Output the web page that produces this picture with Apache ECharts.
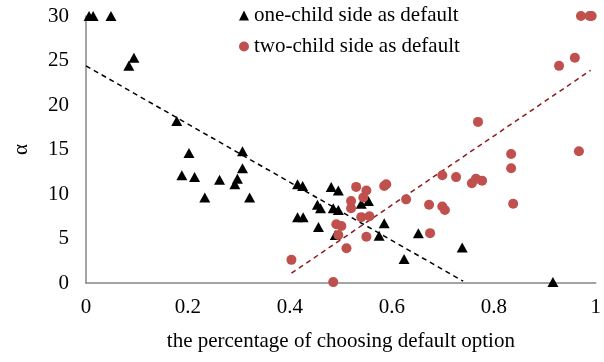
<!DOCTYPE html>
<html>
<head>
<meta charset="utf-8">
<script src="https://cdn.jsdelivr.net/npm/echarts@6/dist/echarts.min.js"></script>
<style>html,body{margin:0;padding:0;background:#fff}#c{width:604px;height:362px}</style>
</head>
<body>
<div id="c"></div>
<script>
// one-child side as default: [percentage, alpha]
var oneChildX = [0.006,0.014,0.049,0.084,0.094,0.178,0.202,0.307,0.307,0.188,0.213,0.262,0.297,0.292,0.233,0.321,0.415,0.425,0.481,0.495,0.454,0.460,0.415,0.426,0.485,0.495,0.540,0.554,0.456,0.489,0.585,0.575,0.652,0.624,0.738,0.916];
var oneChildY = [30,30,30,24.4,25.3,18.2,14.6,14.8,12.9,12.1,11.9,11.6,11.7,11.1,9.6,9.6,11.1,10.9,10.8,10.4,8.8,8.4,7.4,7.4,8.4,8.2,8.9,9.2,6.3,5.4,6.7,5.3,5.6,2.7,4.0,0.1];
// two-child side as default
var twoChildX = [0.403,0.485,0.511,0.530,0.550,0.520,0.520,0.544,0.540,0.556,0.491,0.501,0.495,0.550,0.585,0.589,0.628,0.673,0.699,0.704,0.675,0.699,0.726,0.757,0.765,0.777,0.834,0.834,0.838,0.967,0.769,0.971,0.988,0.992,0.928,0.959];
var twoChildY = [2.6,0.1,3.9,10.8,10.4,9.2,8.4,9.6,7.4,7.5,6.6,6.4,5.4,5.2,10.9,11.1,9.4,8.8,8.6,8.2,5.6,12.1,11.9,11.2,11.7,11.5,14.5,12.9,8.9,14.8,18.1,30,30,30,24.4,25.3];
// trend line end points
var oneTrendX = [0, 0.74];
var oneTrendY = [24.4, 0.2];
var twoTrendX = [0.403, 0.99];
var twoTrendY = [1.1, 23.9];
var xTicks = [0, 0.2, 0.4, 0.6, 0.8, 1];
var yTicks = [0, 5, 10, 15, 20, 25, 30];
var seriesNames = ['one-child side as default', 'two-child side as default'];

function zip(a, b) { return a.map(function (v, i) { return [v, b[i]]; }); }

var FONT = '"Liberation Serif", "Times New Roman", serif';
var FS = 21;
var chart = echarts.init(document.getElementById('c'));
chart.setOption({
  animation: false,
  backgroundColor: '#fff',
  textStyle: { fontFamily: FONT, color: '#000' },
  grid: { left: 86, right: 7, top: 16, bottom: 79 },
  legend: {
    orient: 'vertical', left: 234, top: 0, itemWidth: 10, itemHeight: 10, itemGap: 10,
    textStyle: { fontFamily: FONT, fontSize: FS, color: '#000' },
    data: [
      { name: seriesNames[0], icon: 'triangle', itemStyle: { color: '#000' } },
      { name: seriesNames[1], icon: 'circle', itemStyle: { color: '#C0504D' } }
    ]
  },
  xAxis: {
    type: 'value', min: xTicks[0], max: xTicks[xTicks.length - 1], interval: 0.2,
    name: 'the percentage of choosing default option', nameLocation: 'middle', nameGap: 48,
    nameTextStyle: { fontFamily: FONT, fontSize: FS, color: '#000' },
    axisLine: { lineStyle: { color: '#868686', width: 1.5 } },
    axisTick: { show: false }, splitLine: { show: false },
    axisLabel: { fontFamily: FONT, fontSize: FS, color: '#000', margin: 14 }
  },
  yAxis: {
    type: 'value', min: yTicks[0], max: yTicks[yTicks.length - 1], interval: 5,
    name: 'α', nameLocation: 'middle', nameGap: 54, nameRotate: 90,
    nameTextStyle: { fontFamily: FONT, fontSize: FS, color: '#000' },
    axisLine: { show: true, lineStyle: { color: '#868686', width: 1.5 } },
    axisTick: { show: false }, splitLine: { show: false },
    axisLabel: { fontFamily: FONT, fontSize: FS, color: '#000', margin: 17 }
  },
  series: [
    {
      name: seriesNames[0], type: 'scatter', symbol: 'triangle', symbolSize: [11, 10],
      clip: false, itemStyle: { color: '#000', opacity: 1 }, z: 3,
      data: zip(oneChildX, oneChildY)
    },
    {
      name: seriesNames[1], type: 'scatter', symbol: 'circle', symbolSize: 10,
      clip: false, itemStyle: { color: '#C0504D', opacity: 1 }, z: 4,
      data: zip(twoChildX, twoChildY)
    },
    {
      name: 'trend1', type: 'line', showSymbol: false, symbol: 'none', silent: true, z: 2,
      lineStyle: { color: '#000', width: 1.5, type: [5, 4] },
      data: zip(oneTrendX, oneTrendY)
    },
    {
      name: 'trend2', type: 'line', showSymbol: false, symbol: 'none', silent: true, z: 2,
      lineStyle: { color: '#8E1B1B', width: 1.5, type: [5, 4] },
      data: zip(twoTrendX, twoTrendY)
    }
  ]
});
</script>
</body>
</html>
